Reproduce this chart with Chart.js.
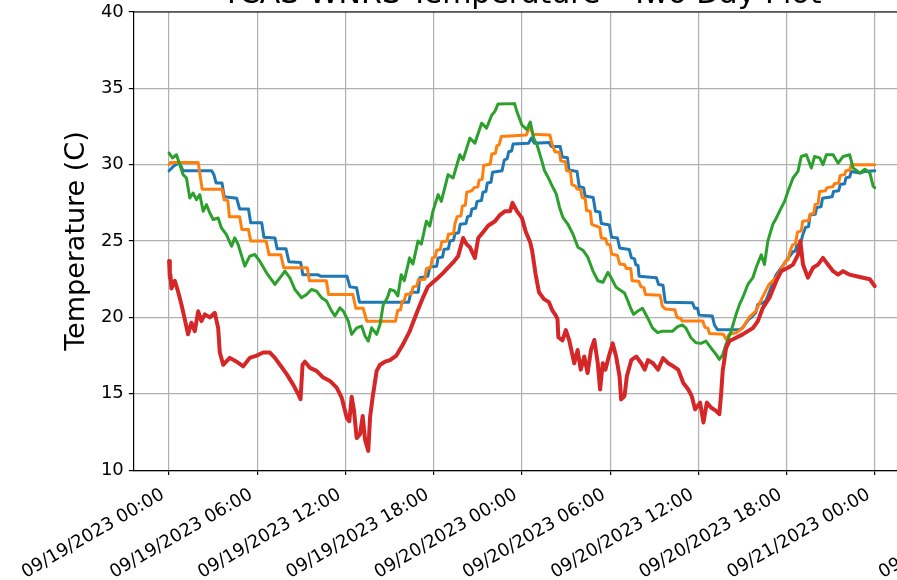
<!DOCTYPE html>
<html><head><meta charset="utf-8">
<script src="https://cdn.jsdelivr.net/npm/chart.js@4.4.1/dist/chart.umd.min.js"></script>
<style>
html,body{margin:0;padding:0;background:#fff;overflow:hidden;}
#wrap{position:relative;width:897px;height:580px;overflow:hidden;background:#fff;}
#c{position:absolute;left:0;top:-20px;}
</style></head><body>
<div id="wrap"><canvas id="c" width="960" height="620" style="width:960px;height:620px"></canvas></div>
<script>
// hours since 09/19/2023 00:00
const tickHours = [0, 6, 12, 18, 24, 30, 36, 42, 48];
const tickLabels = ["09/19/2023 00:00","09/19/2023 06:00","09/19/2023 12:00","09/19/2023 18:00","09/20/2023 00:00","09/20/2023 06:00","09/20/2023 12:00","09/20/2023 18:00","09/21/2023 00:00"];
const yTicks = [10, 15, 20, 25, 30, 35, 40];
const titleText = "TCAS WNRS Temperature - Two Day Plot";
const yTitle = "Temperature (C)";
const cutLabel = "09";

// [hour, temperature]
const blueSeries = [[0,29.6],[0.3,29.9],[0.7,30.15],[0.95,29.6],[2.9,29.6],[3.05,29.35],[3.2,28.8],[3.6,28.8],[3.75,27.9],[4.6,27.8],[4.8,27.1],[5.4,27.1],[5.55,26.2],[6.3,26.2],[6.45,25.25],[7.2,25.2],[7.35,24.5],[7.95,24.5],[8.15,23.65],[8.95,23.6],[9.1,22.8],[10.1,22.8],[10.3,22.7],[12.1,22.7],[12.3,22.0],[12.75,21.95],[12.95,21.0],[16.3,21.0],[16.45,21.65],[16.95,21.65],[17.05,22.6],[17.6,22.7],[17.75,23.3],[18.2,23.35],[18.3,23.9],[18.6,23.95],[18.7,24.45],[19.0,24.5],[19.1,25.0],[19.35,25.05],[19.45,25.5],[19.7,25.55],[19.8,26.1],[20.2,26.15],[20.3,26.6],[20.5,26.65],[20.6,27.1],[20.85,27.15],[20.95,27.6],[21.25,27.65],[21.35,28.2],[21.55,28.25],[21.65,28.8],[21.9,28.85],[22.0,29.5],[22.65,29.6],[22.8,30.3],[23.0,30.4],[23.1,30.85],[23.3,30.9],[23.4,31.35],[24.45,31.4],[24.65,31.75],[24.85,31.4],[25.85,31.45],[26.0,31.2],[26.6,31.2],[26.75,30.5],[27.1,30.45],[27.2,29.65],[27.75,29.55],[27.9,28.55],[28.2,28.5],[28.3,27.95],[28.85,27.85],[29.0,26.95],[29.3,26.9],[29.4,26.15],[29.95,26.05],[30.1,25.25],[30.5,25.2],[30.65,24.55],[31.3,24.45],[31.45,23.9],[31.65,23.85],[31.75,23.45],[31.9,23.4],[31.97,22.7],[33.15,22.6],[33.3,22.15],[33.6,22.1],[33.75,21.0],[35.6,20.96],[35.75,20.6],[35.95,20.6],[36.05,20.15],[36.95,20.1],[37.1,19.5],[37.3,19.2],[38.8,19.2],[39.0,19.3],[39.45,19.9],[39.6,20.0],[39.9,20.3],[40.05,20.85],[40.4,20.95],[40.6,21.1],[41.3,22.8],[41.98,23.7],[42.44,24.3],[42.6,24.35],[42.7,24.75],[42.95,24.8],[43.1,25.4],[43.3,25.9],[43.5,25.95],[43.6,26.7],[43.95,26.75],[44.05,27.2],[44.35,27.25],[44.45,27.8],[45.1,27.9],[45.2,28.25],[45.55,28.3],[45.65,28.7],[45.95,28.75],[46.05,29.15],[46.3,29.2],[46.4,29.55],[47.0,29.45],[47.3,29.55],[48.0,29.6]];

const orangeSeries = [[0,30.0],[0.1,30.15],[1.98,30.15],[2.1,29.35],[2.25,28.4],[3.6,28.4],[3.75,27.7],[4.0,27.65],[4.1,26.6],[4.8,26.6],[4.95,25.75],[5.4,25.75],[5.55,25.0],[6.6,25.0],[6.8,24.1],[7.6,24.1],[7.8,23.25],[9.4,23.25],[9.55,22.4],[10.7,22.4],[10.85,21.5],[12.5,21.5],[12.7,20.6],[13.2,20.6],[13.45,19.75],[15.4,19.75],[15.55,20.45],[15.75,20.5],[15.85,21.05],[16.0,21.1],[16.1,21.5],[16.5,21.55],[16.6,22.0],[16.85,22.05],[16.95,22.45],[17.4,22.5],[17.5,23.2],[17.8,23.25],[17.9,23.9],[18.1,23.95],[18.2,24.4],[18.45,24.45],[18.55,24.95],[18.9,25.0],[19.0,25.45],[19.35,25.5],[19.45,26.15],[19.6,26.6],[19.85,26.65],[19.95,27.3],[20.15,27.35],[20.25,28.2],[20.6,28.3],[20.75,28.5],[21.0,28.55],[21.1,29.0],[21.3,29.05],[21.4,29.95],[21.85,30.05],[21.95,30.7],[22.2,30.75],[22.3,31.25],[22.45,31.3],[22.6,31.85],[24.3,31.95],[24.45,32.3],[24.55,32.5],[24.75,32.0],[25.9,31.95],[26.05,31.35],[26.25,30.85],[26.55,30.8],[26.65,30.25],[26.95,30.2],[27.05,29.6],[27.3,29.55],[27.4,28.7],[27.65,28.6],[27.75,28.4],[28.0,28.35],[28.1,27.85],[28.3,27.8],[28.4,27.0],[28.65,26.95],[28.75,26.1],[29.0,26.0],[29.3,25.9],[29.4,25.2],[29.7,25.15],[29.8,24.8],[30.0,24.75],[30.1,24.15],[30.5,24.05],[30.65,23.5],[31.0,23.45],[31.1,23.2],[31.4,23.2],[31.5,22.4],[31.95,22.37],[32.1,22.0],[32.3,21.95],[32.4,21.5],[33.4,21.45],[33.55,20.75],[33.75,20.55],[34.4,20.5],[34.55,20.0],[34.8,19.95],[34.9,19.76],[36.3,19.76],[36.45,19.35],[36.65,19.3],[36.75,18.95],[37.7,18.9],[37.9,18.56],[38.1,18.9],[38.6,19.0],[39.0,19.3],[39.45,20.0],[39.9,20.4],[40.35,21.3],[40.8,22.15],[41.3,22.6],[41.95,23.7],[42.1,23.75],[42.2,24.2],[42.4,24.75],[42.6,24.8],[42.75,25.6],[43.0,25.65],[43.1,26.3],[43.5,26.35],[43.6,26.75],[43.85,26.8],[43.95,27.4],[44.15,27.45],[44.25,28.25],[44.65,28.3],[44.75,28.5],[45.15,28.55],[45.25,28.75],[45.55,28.8],[45.65,29.3],[45.95,29.35],[46.05,29.6],[46.3,29.65],[46.4,30.0],[48.0,30.0]];

const greenSeries = [[0,30.76],[0.23,30.44],[0.5,30.65],[0.73,30.0],[0.95,29.35],[1.18,29.13],[1.41,27.82],[1.63,28.15],[1.86,27.71],[2.09,28.04],[2.32,26.95],[2.54,27.39],[2.77,26.84],[3.0,26.41],[3.34,26.51],[3.56,25.86],[3.9,25.42],[4.25,24.66],[4.47,25.21],[4.7,24.77],[5.15,23.36],[5.49,24.01],[5.83,24.12],[6.17,23.68],[6.63,22.92],[7.2,22.16],[7.54,22.59],[7.88,23.03],[8.22,22.59],[8.56,21.83],[9.01,21.29],[9.35,21.5],[9.69,21.83],[10.03,21.72],[10.37,21.29],[10.71,21.07],[11.06,20.41],[11.28,20.09],[11.62,20.63],[11.85,20.41],[12.19,19.76],[12.42,18.89],[12.76,19.32],[13.1,19.43],[13.33,18.78],[13.55,18.45],[13.78,19.32],[14.12,18.89],[14.35,19.54],[14.57,20.85],[14.85,21.29],[15.03,21.83],[15.33,21.74],[15.56,21.4],[15.79,22.8],[16.0,22.4],[16.36,23.9],[16.59,23.5],[16.93,25.0],[17.16,24.8],[17.5,26.3],[17.73,25.98],[17.95,26.96],[18.3,28.04],[18.52,27.6],[18.98,29.35],[19.32,29.13],[19.78,30.65],[20.0,30.33],[20.46,31.74],[20.8,31.41],[21.26,32.72],[21.6,32.4],[21.95,33.26],[22.17,33.5],[22.37,33.97],[23.5,34.0],[23.66,33.48],[24.0,32.6],[24.34,32.3],[24.57,32.8],[24.8,31.74],[25.03,31.3],[25.37,30.2],[25.54,29.6],[25.77,29.2],[26.0,28.73],[26.33,28.1],[26.56,27.2],[26.79,26.55],[27.13,26.1],[27.47,25.46],[27.81,24.6],[28.15,24.4],[28.49,23.93],[28.83,23.05],[29.17,22.4],[29.51,22.3],[29.85,22.95],[30.07,22.6],[30.41,21.97],[30.75,21.75],[30.98,21.6],[31.2,21.1],[31.4,20.6],[31.6,20.2],[31.86,20.4],[32.2,20.6],[32.54,20.0],[32.88,19.32],[33.23,19.0],[33.57,19.1],[34.25,19.1],[34.59,19.4],[34.93,19.5],[35.16,19.3],[35.5,18.67],[35.84,18.34],[36.18,18.3],[36.52,18.45],[36.86,18.0],[37.21,17.58],[37.43,17.25],[37.66,17.55],[37.89,18.24],[38.23,19.1],[38.57,20.2],[38.8,20.85],[39.02,21.29],[39.37,22.16],[39.71,22.6],[39.93,23.25],[40.28,24.1],[40.5,23.46],[40.73,25.0],[41.07,26.1],[41.3,26.5],[41.64,27.17],[41.87,27.6],[42.1,28.26],[42.44,29.13],[42.78,29.56],[43.0,30.54],[43.35,30.65],[43.69,29.78],[43.91,30.54],[44.26,30.45],[44.48,30.0],[44.71,30.65],[45.17,30.65],[45.51,30.1],[45.85,30.54],[46.3,30.65],[46.53,29.78],[46.99,29.46],[47.33,29.7],[47.67,29.46],[47.89,28.6],[48.0,28.5]];

const redSeries = [[0,23.7],[0.05,22.6],[0.09,22.8],[0.16,21.9],[0.39,22.4],[0.61,21.7],[0.84,20.85],[1.07,19.87],[1.29,18.9],[1.52,19.65],[1.75,19.1],[1.98,20.4],[2.2,19.76],[2.43,20.2],[2.77,20.0],[3.11,20.3],[3.34,19.3],[3.45,17.7],[3.68,16.9],[4.13,17.35],[4.59,17.1],[5.04,16.8],[5.49,17.35],[5.95,17.5],[6.4,17.7],[6.86,17.7],[7.2,17.35],[7.54,16.9],[7.99,16.3],[8.44,15.6],[8.79,14.97],[8.94,14.64],[9.08,16.9],[9.24,17.1],[9.58,16.7],[10.03,16.5],[10.49,16.06],[10.94,15.84],[11.4,15.4],[11.74,14.75],[12.08,13.44],[12.26,13.2],[12.42,14.8],[12.58,13.9],[12.76,12.1],[12.99,12.35],[13.17,13.55],[13.33,12.0],[13.55,11.26],[13.67,13.44],[13.85,14.8],[14.12,16.5],[14.35,16.9],[14.69,17.1],[15.03,17.2],[15.46,17.5],[15.92,18.25],[16.37,19.1],[16.47,19.35],[16.93,20.5],[17.27,21.3],[17.6,22.0],[17.95,22.3],[18.3,22.6],[18.63,22.9],[18.98,23.26],[19.32,23.6],[19.66,24.0],[20.0,25.2],[20.23,24.8],[20.46,24.6],[20.8,23.9],[21.03,25.2],[21.37,25.6],[21.7,26.0],[22.17,26.3],[22.5,26.7],[22.86,26.96],[23.2,26.96],[23.36,27.5],[23.66,26.96],[24.0,26.52],[24.25,25.65],[24.57,24.9],[24.7,24.35],[24.93,22.84],[25.16,21.65],[25.5,21.2],[25.84,21.0],[26.07,20.46],[26.3,20.14],[26.42,19.9],[26.48,18.7],[26.76,18.5],[26.99,19.17],[27.22,18.5],[27.56,17.0],[27.79,17.87],[28.0,16.58],[28.24,17.44],[28.47,16.36],[28.7,17.87],[28.93,18.52],[29.16,17.0],[29.32,15.28],[29.5,17.0],[29.68,16.58],[29.91,17.44],[30.18,18.3],[30.41,17.44],[30.64,16.15],[30.75,14.63],[30.98,14.85],[31.14,16.15],[31.44,17.2],[31.78,17.44],[32.12,17.0],[32.35,16.58],[32.58,17.2],[32.92,17.0],[33.26,16.58],[33.6,17.33],[33.95,17.0],[34.3,16.8],[34.63,16.58],[34.98,15.71],[35.32,15.28],[35.55,14.85],[35.78,13.98],[36.12,14.42],[36.35,13.12],[36.58,14.42],[36.86,14.1],[37.21,13.88],[37.43,13.66],[37.55,14.97],[37.66,16.5],[37.89,18.0],[38.12,18.45],[38.57,18.67],[39.02,18.89],[39.37,19.1],[39.71,19.3],[40.05,19.76],[40.39,20.63],[40.84,21.29],[41.3,22.37],[41.64,23.03],[42.1,23.25],[42.44,23.46],[42.78,24.1],[42.94,25.0],[43.12,23.46],[43.46,22.6],[43.8,23.25],[44.14,23.46],[44.48,23.9],[44.82,23.46],[45.17,23.03],[45.51,22.8],[45.85,23.03],[46.3,22.8],[46.76,22.7],[47.21,22.6],[47.67,22.5],[48.0,22.05]];

const FONT = '"DejaVu Sans", sans-serif';
const X_PAD = 9, X_TICKLEN = 5, X_LABEL_OFFSET = -6;

const toPts = s => s.map(p => ({x: p[0], y: p[1]}));
const mk = (data, color, width, order) => ({
  data: toPts(data), borderColor: color, backgroundColor: color, borderWidth: width,
  pointRadius: 0, tension: 0, fill: false, order: order,
  borderJoinStyle: 'round', borderCapStyle: 'round'
});

const framePlugin = {
  id: 'frame',
  afterDraw(chart) {
    const {ctx, chartArea: a} = chart;
    ctx.save();
    ctx.strokeStyle = '#000'; ctx.lineWidth = 1.2;
    ctx.beginPath();
    ctx.moveTo(a.left, a.top); ctx.lineTo(a.right, a.top); ctx.lineTo(a.right, a.bottom);
    ctx.stroke();
    // partial tick label beyond the right edge of the picture
    const xs = chart.scales.x;
    ctx.font = '18px ' + FONT;
    ctx.fillStyle = '#000';
    const W = ctx.measureText(tickLabels[tickLabels.length - 1]).width;
    const ax = xs.getPixelForValue(tickHours[tickHours.length - 1]) + X_LABEL_OFFSET;
    const ay = xs.top + X_TICKLEN + X_PAD;
    const c = Math.cos(Math.PI / 6), s = Math.sin(Math.PI / 6);
    const sx = ax - W * c + 146, sy = ay + W * s;
    ctx.translate(sx, sy);
    ctx.rotate(-Math.PI / 6);
    ctx.textAlign = 'left'; ctx.textBaseline = 'middle';
    ctx.fillText(cutLabel, 0, 10.8);
    ctx.restore();
  }
};

new Chart(document.getElementById('c'), {
  type: 'line',
  data: {
    datasets: [
      mk(blueSeries, '#1f77b4', 3, 3),
      mk(orangeSeries, '#ff7f0e', 3, 2),
      mk(greenSeries, '#2ca02c', 3, 1),
      mk(redSeries, '#d62728', 4, 0)
    ]
  },
  options: {
    responsive: false, devicePixelRatio: 1, animation: false,
    layout: {padding: {left: 61, right: 50, top: 0, bottom: 7.5}},
    plugins: {
      legend: {display: false}, tooltip: {enabled: false},
      title: {display: true, text: titleText, color: '#000', fullSize: false,
        font: {family: FONT, size: 30, weight: 'normal', lineHeight: 1.0},
        padding: {top: 0, bottom: 2}}
    },
    scales: {
      x: {
        type: 'linear', min: -2.4, max: 50.4,
        afterBuildTicks: sc => { sc.ticks = tickHours.map(v => ({value: v})); },
        ticks: {
          autoSkip: false, maxRotation: 30, minRotation: 30, padding: X_PAD,
          labelOffset: X_LABEL_OFFSET,
          color: '#000', font: {family: FONT, size: 18},
          callback: v => { const i = tickHours.indexOf(v); return i >= 0 ? tickLabels[i] : ''; }
        },
        grid: {color: '#b0b0b0', lineWidth: 1.2, tickLength: X_TICKLEN, tickColor: '#000', tickWidth: 1.2},
        border: {color: '#000', width: 1.2}
      },
      y: {
        min: 10, max: 40,
        afterBuildTicks: sc => { sc.ticks = yTicks.map(v => ({value: v})); },
        ticks: {padding: 5, color: '#000', font: {family: FONT, size: 18}},
        title: {display: true, text: yTitle, color: '#000',
          font: {family: FONT, size: 27, weight: 'normal'}, padding: {top: 0, bottom: 2.5}},
        grid: {color: '#b0b0b0', lineWidth: 1.2, tickLength: 5, tickColor: '#000', tickWidth: 1.2},
        border: {color: '#000', width: 1.2}
      }
    }
  },
  plugins: [framePlugin]
});
</script>
</body></html>
